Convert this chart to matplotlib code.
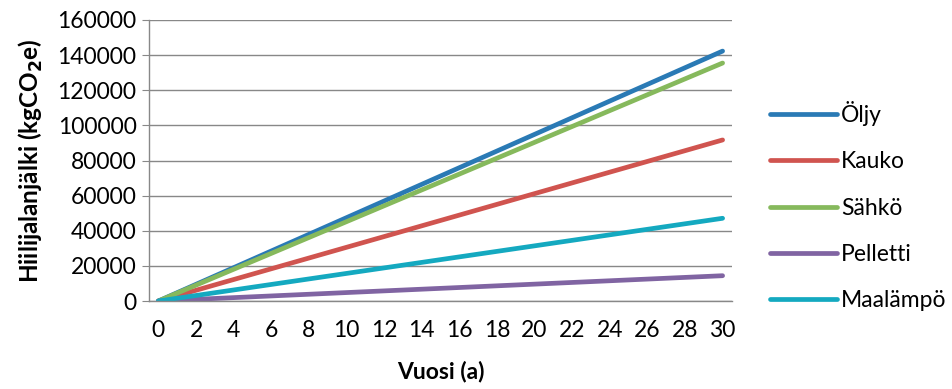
import matplotlib
matplotlib.use('Agg')
from matplotlib import pyplot as plt

# carbon footprint per heating system, cumulative over years
years = [0, 30]
names = ['Öljy', 'Kauko', 'Sähkö', 'Pelletti', 'Maalämpö']
oljy = [0, 142300]
kauko = [0, 91700]
sahko = [0, 135500]
pelletti = [0, 14400]
maalampo = [0, 47100]
colors = ['#2A7AB5', '#D0544F', '#86B95C', '#8064A2', '#14A9C0']
yticks = list(range(0, 160001, 20000))
xticks = list(range(0, 31, 2))

plt.rcParams['font.family'] = ['Lato', 'DejaVu Sans']
fs = 16.5
fig = plt.figure(figsize=(9.53, 3.89), dpi=100)
ax = fig.add_axes([149/953., 1-301/389., (732-149)/953., (301-20)/389.])

series = [oljy, kauko, sahko, pelletti, maalampo]
for name, vals, c in zip(names, series, colors):
    ax.plot(years, vals, color=c, lw=3.4, solid_capstyle='round', label=name)

ax.set_xlim(-0.5, 30.5)
ax.set_ylim(0, 160000)
ax.set_yticks(yticks)
ax.set_xticks(xticks)
ax.tick_params(axis='y', length=5, color='#888888', labelsize=fs, pad=4)
ax.tick_params(axis='x', length=0, labelsize=fs, pad=14)
ax.yaxis.grid(True, color='#888888', lw=1)
ax.set_axisbelow(True)
for s in ['top', 'right']:
    ax.spines[s].set_visible(False)
for s in ['left', 'bottom']:
    ax.spines[s].set_color('#888888')
    ax.spines[s].set_linewidth(1)

ax.set_xlabel('Vuosi (a)', fontsize=fs, fontweight='bold', labelpad=14)
ax.set_ylabel('Hiilijalanjälki (kgCO$_\\mathbf{2}$e)', fontsize=17.5,
              fontweight='bold', labelpad=9)

leg = ax.legend(loc='center left', bbox_to_anchor=(1.05, 0.338), frameon=False,
                fontsize=fs, handlelength=2.9, handletextpad=0.2,
                labelspacing=1.1, borderaxespad=0)

fig.savefig('out.png', dpi=100)
